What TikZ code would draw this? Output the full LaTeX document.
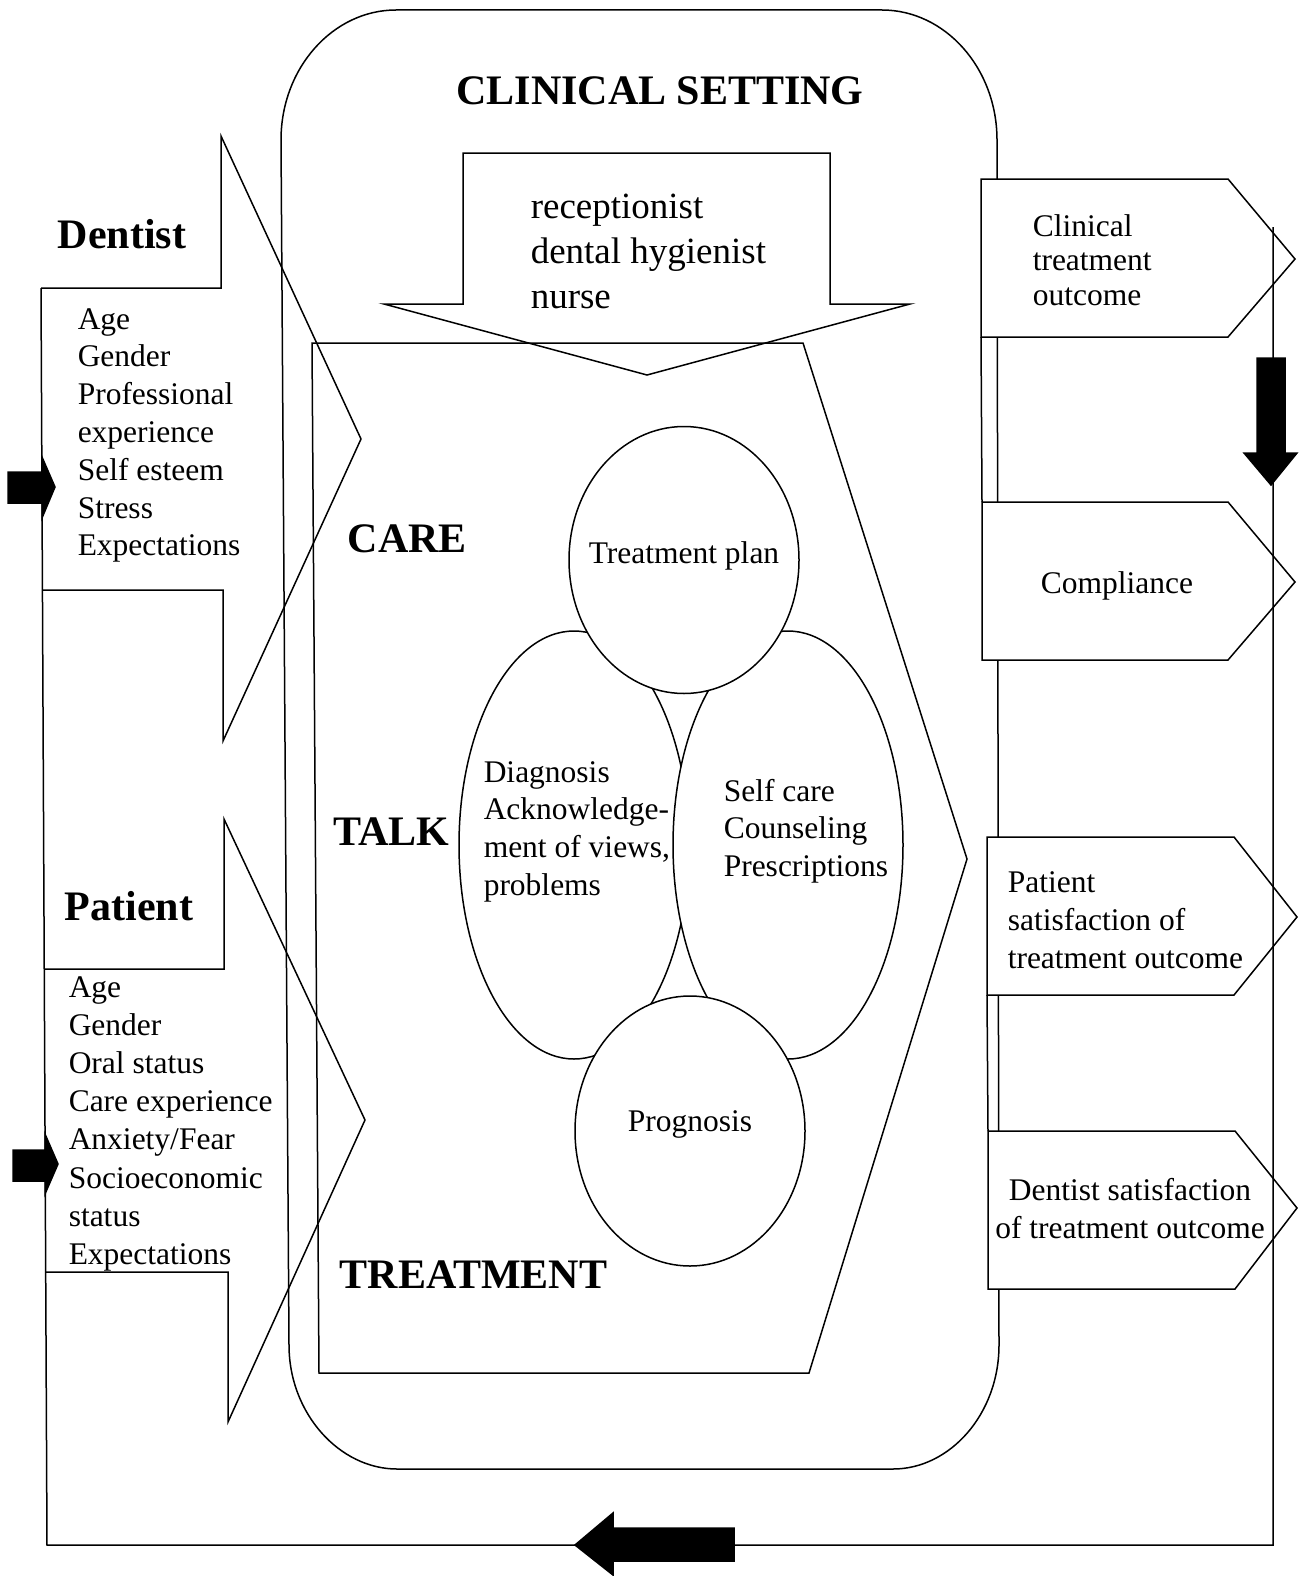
\documentclass[tikz,border=0pt]{standalone}
\usepackage{fontspec}
\setmainfont{Liberation Serif}
\usetikzlibrary{shapes.geometric}
\tikzset{
	txt/.style={inner sep=0pt, font=\fontsize{31.5}{38}\selectfont},
	stafftxt/.style={inner sep=0pt, font=\fontsize{37}{44}\selectfont},
	hdr/.style={inner sep=0pt, font=\fontsize{42}{50}\selectfont\bfseries},
	outcome/.style={draw, fill=white},
	blob/.style={draw, fill=white, ellipse, inner sep=0pt, minimum width=230pt},
}
\begin{document}
\begin{tikzpicture}[x=1pt, y=-1pt, line width=1.5pt]
		\useasboundingbox (0,0) rectangle (1298,1576);

		\draw (281,140) .. controls (281,68) and (333,10) .. (396,10) --
		(882,10) .. controls (945,10) and (997,68) .. (997,140) --
		(999,1345) .. controls (999,1414) and (950,1469) .. (893,1469) --
		(397,1469) .. controls (340,1469) and (289,1414) .. (289,1345) --
		cycle;

		\draw (312,343) --
		++ (491,0) --
		++ (164,516) --
		++ (-158,514) --
		++ (-490,0) --
		cycle;

		\draw (463,153) --
		++ (367,0) --
		++ (0,151) --
		++ (80,0) --
		++ (-263,71) --
		++ (-263,-71) --
		++ (79,0) --
		cycle;

		\draw (43,590) --
		++ (180,0) --
		++ (0,151) --
		(361,439) --
		(221,136) --
		++ (0,152) --
		++ (-180,0) coordinate (dcorner);

		\draw (45,1272) --
		++ (183,0) --
		++ (0,150) --
		(365,1120) --
		(224,819) --
		++ (0,150) --
		++ (-180,0);

		\node[blob, minimum height=428pt] (diag) at (574,845) {};
		\node[blob, minimum height=428pt] (selfcare) at (788,845) {};
		\node[blob, minimum height=267pt] (plan) at (684,560) {};
		\node[blob, minimum height=270pt] (progn) at (690,1131) {};

		\filldraw[outcome] (981,179) --
		++ (247,0) --
		++ (67,80) --
		++ (-67,78) --
		++ (-247,0) coordinate (b1) --
		cycle;

		\filldraw[outcome] (982,502) coordinate (b2) --
		++ (246,0) --
		++ (67,80) --
		++ (-67,78) --
		++ (-246,0) --
		cycle;

		\filldraw[outcome] (987,837) --
		++ (247,0) --
		++ (63,80) --
		++ (-63,78) --
		++ (-247,0) coordinate (b3) --
		cycle;

		\filldraw[outcome] (988,1131) coordinate (b4) --
		++ (247,0) --
		++ (62,77) --
		++ (-62,81) --
		++ (-247,0) --
		cycle;

		\draw (b1) -- (b2);
		\draw (b3) -- (b4);

		\coordinate (fbtop) at (1273,227);
		\coordinate (fbright) at (1273,1545);
		\coordinate (fbleft) at (47,1545);
		\draw (fbtop) -- (fbright) -- (fbleft) -- (dcorner);

		\filldraw (8,472) -- ++ (34,0) -- ++ (0,-15) -- ++ (13,30) -- ++ (-13,31) -- ++ (0,-15) -- ++ (-34,0) -- cycle;
		\filldraw (13,1150) -- ++ (32,0) -- ++ (0,-16) -- ++ (13,30) -- ++ (-13,30) -- ++ (0,-13) -- ++ (-32,0) -- cycle;
		\filldraw (1257,358) -- ++ (28,0) -- ++ (0,95) -- ++ (12,0) -- ++ (-26,32) -- ++ (-27,-32) -- ++ (13,0) -- cycle;
		\filldraw (734,1528) -- ++ (-121,0) -- ++ (0,-15) -- ++ (-38,32) -- ++ (38,30) -- ++ (0,-14) -- ++ (121,0) -- cycle;

		\node[hdr, anchor=base] (setting) at (660,105) {CLINICAL SETTING};
		\node[hdr, anchor=base] (dentist) at (122,248) {Dentist};
		\node[hdr, anchor=base] (patient) at (129,920) {Patient};
		\node[hdr, anchor=base west] (care) at (347,552) {CARE};
		\node[hdr, anchor=base west] (talk) at (333,845) {TALK};
		\node[hdr, anchor=base west] (treat) at (339,1288) {TREATMENT};

		\foreach \w [count=\i from 0] in {receptionist,dental hygienist,nurse}
			\node[stafftxt, anchor=base west] (staff\i) at (530,{218+45*\i}) {\w};

		\foreach \w [count=\i from 0] in {Age,Gender,Professional,experience,Self esteem,Stress,Expectations}
			\node[txt, anchor=base west] (dv\i) at (77,{329+37.8*\i}) {\w};

		\foreach \w [count=\i from 0] in {Age,Gender,Oral status,Care experience,Anxiety/Fear,Socioeconomic,status,Expectations}
			\node[txt, anchor=base west] (pv\i) at (68,{997+38.2*\i}) {\w};

		\node[txt, anchor=base] (plantxt) at (684,563) {Treatment plan};
		\foreach \w [count=\i from 0] in {Diagnosis,Acknowledge-,{ment of views,},problems}
			\node[txt, anchor=base west] (dg\i) at (483,{782+37.7*\i}) {\w};
		\foreach \w [count=\i from 0] in {Self care,Counseling,Prescriptions}
			\node[txt, anchor=base west] (sc\i) at (723,{801+37.7*\i}) {\w};
		\node[txt, anchor=base] (progtxt) at (690,1131) {Prognosis};

		\foreach \w [count=\i from 0] in {Clinical,treatment,outcome}
			\node[txt, anchor=base west] (co\i) at (1032,{236+34.5*\i}) {\w};
		\node[txt, anchor=base] (compl) at (1117,593) {Compliance};
		\foreach \w [count=\i from 0] in {Patient,satisfaction of,treatment outcome}
			\node[txt, anchor=base west] (ps\i) at (1007,{892+38*\i}) {\w};
		\node[txt, anchor=base] (ds0) at (1130,1200) {Dentist satisfaction};
		\node[txt, anchor=base] (ds1) at (1130,1238) {of treatment outcome};
	\end{tikzpicture}
\end{document}
